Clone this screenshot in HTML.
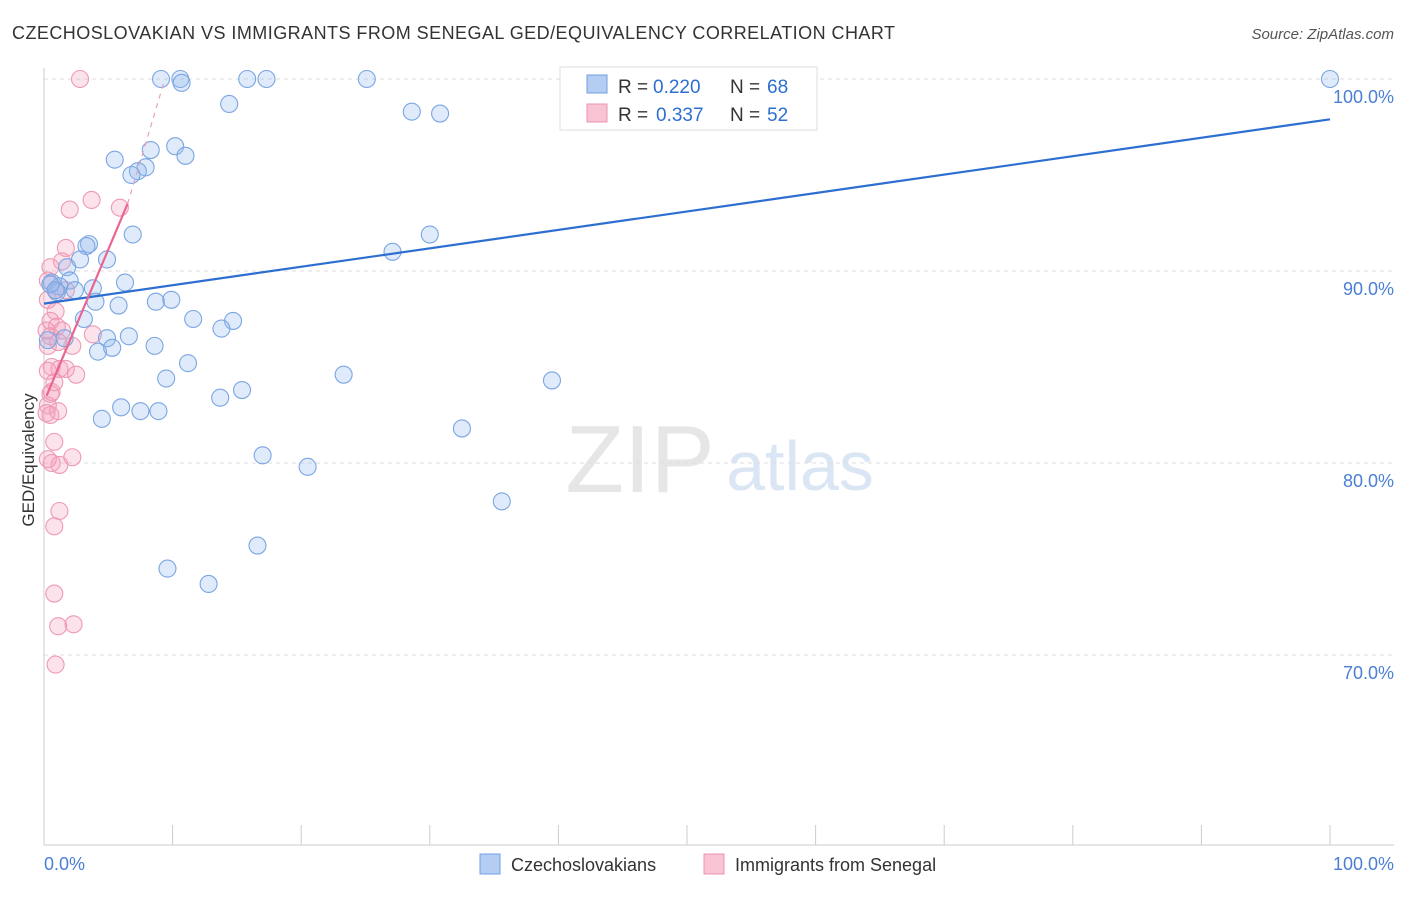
<!DOCTYPE html>
<html><head><meta charset="utf-8"><style>
body{margin:0;background:#fff;font-family:"Liberation Sans",sans-serif;}
svg text{font-family:"Liberation Sans",sans-serif;}
</style></head><body>
<svg id="c" width="1406" height="892">
<text x="12" y="39" font-size="18" fill="#333" textLength="883" lengthAdjust="spacing">CZECHOSLOVAKIAN VS IMMIGRANTS FROM SENEGAL GED/EQUIVALENCY CORRELATION CHART</text>
<text x="1394" y="39" font-size="15" fill="#555" text-anchor="end" font-style="italic">Source: ZipAtlas.com</text>
<text x="34" y="460" font-size="17" fill="#333" text-anchor="middle" transform="rotate(-90 34 460)">GED/Equivalency</text>
<text x="640" y="492" font-size="96" fill="#e6e6e6" font-family="Liberation Serif" text-anchor="middle">ZIP</text>
<text x="800" y="490" font-size="70" fill="#dbe6f5" text-anchor="middle">atlas</text>
<g id="grid"></g><g id="marks"></g>
<g>
<rect x="560" y="67" width="257" height="63" fill="#fff" stroke="#ddd"/>
<rect x="587" y="75" width="20" height="18" fill="#b5cdf3" stroke="#6f9fe0"/>
<rect x="587" y="104" width="20" height="18" fill="#f8c3d3" stroke="#ec93ad"/>
<text x="618" y="93" font-size="19" fill="#333">R =</text>
<text x="653" y="93" font-size="19" fill="#2d6fd1">0.220</text>
<text x="730" y="93" font-size="19" fill="#333">N =</text>
<text x="767" y="93" font-size="19" fill="#2d6fd1">68</text>
<text x="618" y="121" font-size="19" fill="#333">R =</text>
<text x="656" y="121" font-size="19" fill="#2d6fd1">0.337</text>
<text x="730" y="121" font-size="19" fill="#333">N =</text>
<text x="767" y="121" font-size="19" fill="#2d6fd1">52</text>
</g>
<g>
<rect x="480" y="854" width="20" height="20" fill="#b5cdf3" stroke="#6f9fe0"/>
<text x="511" y="871" font-size="18" fill="#333">Czechoslovakians</text>
<rect x="704" y="854" width="20" height="20" fill="#f8c3d3" stroke="#ec93ad"/>
<text x="735" y="871" font-size="18" fill="#333">Immigrants from Senegal</text>
</g>
</svg>
<script>
const yTicks=[100,90,80,70];
const xTickLabels=["0.0%","100.0%"];
const blueX=[9.1,10.6,10.7,15.8,17.3,25.1,100,14.4,28.6,30.8,10.2,8.3,5.5,11.0,7.9,7.3,6.8,6.9,30.0,3.5,3.3,27.1,2.8,4.9,1.8,0.6,2.0,6.3,1.2,2.4,1.0,3.8,4.0,5.8,8.7,9.9,11.6,14.7,3.1,13.8,1.6,4.9,6.6,4.2,5.3,8.6,11.2,9.5,23.3,39.5,15.4,13.7,6.0,7.5,8.9,4.5,32.5,17.0,20.5,35.6,16.6,9.6,12.8,0.5,0.9,0.3];
const blueY=[100,100,99.8,100,100,100,100,98.7,98.3,98.2,96.5,96.3,95.8,96.0,95.4,95.2,95.0,91.9,91.9,91.4,91.3,91.0,90.6,90.6,90.2,89.4,89.5,89.4,89.2,89.0,88.9,89.1,88.4,88.2,88.4,88.5,87.5,87.4,87.5,87.0,86.5,86.5,86.6,85.8,86.0,86.1,85.2,84.4,84.6,84.3,83.8,83.4,82.9,82.7,82.7,82.3,81.8,80.4,79.8,78.0,75.7,74.5,73.7,89.3,89.0,86.4];
const pinkX=[2.8,3.7,2.0,5.9,1.7,1.4,0.5,0.3,0.9,1.7,0.9,0.5,1.0,0.5,3.8,2.2,0.3,1.1,0.6,1.7,2.5,1.2,0.3,0.8,0.6,0.3,1.1,0.2,0.5,0.8,2.2,0.3,1.2,0.6,1.2,0.8,0.8,1.1,2.3,0.9,0.3,0.2,1.4,0.5];
const pinkY=[100,93.7,93.2,93.3,91.2,90.5,90.2,89.5,89.0,89.0,87.9,87.4,87.1,86.6,86.7,86.1,86.1,86.3,85.0,84.9,84.6,84.9,84.8,84.2,83.7,83.0,82.7,82.6,82.5,81.1,80.3,80.2,79.9,80.0,77.5,76.7,73.2,71.5,71.6,69.5,88.5,86.9,86.9,83.6];
const blueTrend=[[0,88.3],[100,97.9]];
const pinkTrend=[[0.2,83.5],[6.5,93.5]];
const pinkDash=[[6.5,93.5],[9.4,100]];
const NS="http://www.w3.org/2000/svg";
const X=v=>44+v*12.86, Y=v=>79+(100-v)*19.2;
function mk(t,a,p){const e=document.createElementNS(NS,t);for(const k in a)e.setAttribute(k,a[k]);p.appendChild(e);return e;}
const g=document.getElementById('grid'), m=document.getElementById('marks');
yTicks.forEach(t=>{
 const l=mk('line',{x1:44,x2:1394,y1:Y(t),y2:Y(t),stroke:'#ddd','stroke-dasharray':'4,4'},g);
 
 
 const tx=mk('text',{x:1394,y:Y(t)+24,'font-size':18,fill:'#4a7fd4','text-anchor':'end'},g);tx.textContent=t.toFixed(1)+'%';
 
 
});
const ax=mk('line',{x1:44,x2:1394,y1:845,y2:845,stroke:'#ccc'},g);


const ay=mk('line',{x1:44,x2:44,y1:68,y2:845,stroke:'#ccc'},g);


for(let i=1;i<=10;i++){const l=mk('line',{x1:X(i*10),x2:X(i*10),y1:825,y2:845,stroke:'#ccc'},g);
 
 }
[[0,'start',44],[1,'end',1394]].forEach(([i,a,x])=>{const t=mk('text',{x:x,y:870,'font-size':18,fill:'#4a7fd4','text-anchor':a},g);t.textContent=xTickLabels[i];
 
 });
pinkX.forEach((v,i)=>{const c=mk('circle',{cx:X(v),cy:Y(pinkY[i]),r:8.5,fill:'rgba(244,160,188,0.3)',stroke:'#ee9ab3','stroke-width':1.1},m);
 
 });
blueX.forEach((v,i)=>{const c=mk('circle',{cx:X(v),cy:Y(blueY[i]),r:8.5,fill:'rgba(150,185,238,0.3)',stroke:'#7ba6e2','stroke-width':1.1},m);
 
 });
const bt=mk('line',{x1:X(blueTrend[0][0]),y1:Y(blueTrend[0][1]),x2:X(blueTrend[1][0]),y2:Y(blueTrend[1][1]),stroke:'#2d6fd1','stroke-width':2.2},m);


const pt=mk('line',{x1:X(pinkTrend[0][0]),y1:Y(pinkTrend[0][1]),x2:X(pinkTrend[1][0]),y2:Y(pinkTrend[1][1]),stroke:'#e8668f','stroke-width':2.2},m);


const pd=mk('line',{x1:X(pinkDash[0][0]),y1:Y(pinkDash[0][1]),x2:X(pinkDash[1][0]),y2:Y(pinkDash[1][1]),stroke:'#e8a0b8','stroke-width':1.2,'stroke-dasharray':'5,5'},m);


</script>
</body></html>
